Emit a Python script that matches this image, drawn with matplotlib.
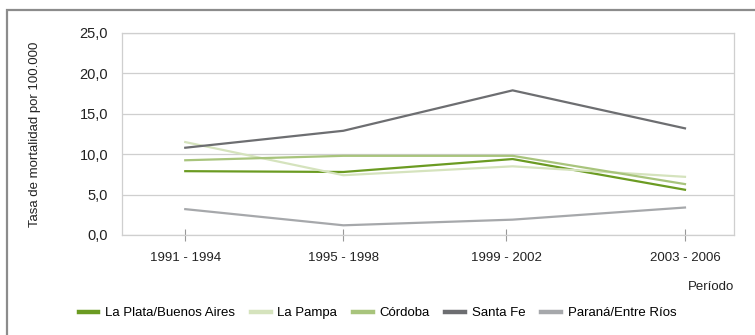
import matplotlib.pyplot as plt
from matplotlib.patches import Rectangle

plt.rcParams['font.family'] = ['Liberation Sans', 'DejaVu Sans']

periods = ['1991 - 1994', '1995 - 1998', '1999 - 2002', '2003 - 2006']
tick_pos = [0, 1, 2.03, 3.16]
point_pos = [0, 1, 2.07, 3.16]

la_plata = [7.9, 7.8, 9.4, 5.6]
la_pampa = [11.5, 7.4, 8.5, 7.2]
cordoba = [9.25, 9.8, 9.8, 6.3]
santa_fe = [10.8, 12.9, 17.9, 13.2]
parana = [3.2, 1.2, 1.9, 3.4]

series = [
    ('La Plata/Buenos Aires', la_plata, '#6b9b22'),
    ('La Pampa', la_pampa, '#d5e3bd'),
    ('Córdoba', cordoba, '#a8c47c'),
    ('Santa Fe', santa_fe, '#6d6e71'),
    ('Paraná/Entre Ríos', parana, '#a6a8ab'),
]

fig = plt.figure(figsize=(7.55, 3.35), dpi=100)
ax = fig.add_axes([122 / 755, 1 - 235 / 335, 612 / 755, 202 / 335])

# outer frame around the whole chart
fig.patches.append(Rectangle((7 / 755, -0.1), 1.2, 1.1 - 10 / 335,
                             transform=fig.transFigure, fill=False,
                             edgecolor='#8c8c8c', linewidth=1.6))

for name, vals, color in series:
    ax.plot(point_pos, vals, color=color, linewidth=1.6, label=name)

ax.set_ylim(0, 25)
ax.set_xlim(-0.40, 3.47)
ax.set_yticks([0, 5, 10, 15, 20, 25])
ax.set_yticklabels(['0,0', '5,0', '10,0', '15,0', '20,0', '25,0'])
ax.set_xticks(tick_pos)
ax.set_xticklabels(periods)
ax.grid(axis='y', color='#cfcfcf', linewidth=0.9)
ax.set_axisbelow(True)
for s in ax.spines.values():
    s.set_color('#cfcfcf')
    s.set_linewidth(0.9)
ax.tick_params(axis='y', length=0, pad=10, labelsize=10.5, colors='#222222')
ax.tick_params(axis='x', direction='inout', length=9, color='#999999',
               pad=8, labelsize=9.5, labelcolor='#222222')

ax.set_ylabel('Tasa de mortalidad por 100.000', fontsize=9.5,
              color='#222222', labelpad=28)
fig.text(734 / 755, 1 - 287 / 335, 'Período', ha='right', va='center',
         fontsize=9.5, color='#222222')

fig.legend(loc='center', bbox_to_anchor=(0.5, 1 - 313 / 335), ncol=5,
           frameon=False, fontsize=9.5, handlelength=1.5, handletextpad=0.5,
           columnspacing=1.2, borderaxespad=0)
for h in fig.legends[0].legend_handles:
    h.set_linewidth(3.2)

fig.savefig('out.png', dpi=100)
